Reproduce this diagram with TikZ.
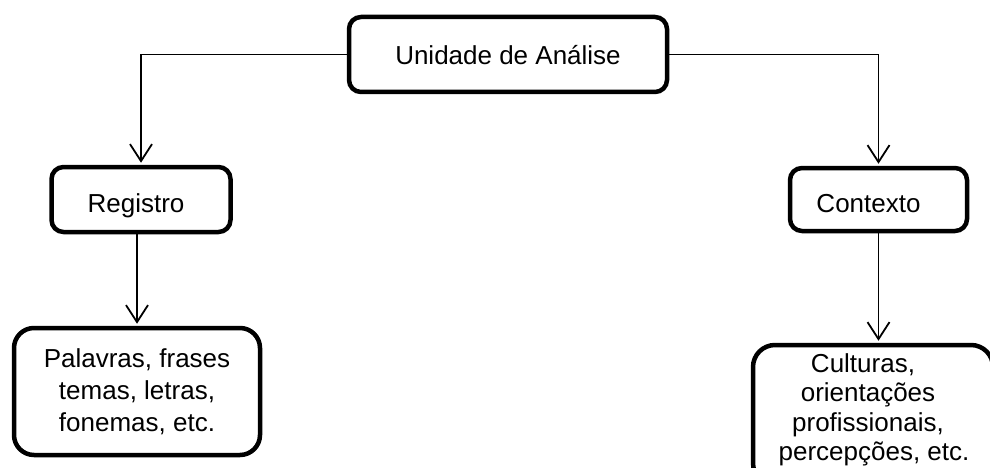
\documentclass[tikz,border=0pt]{standalone}
\usepackage{fontspec}
\setmainfont{Liberation Sans}
\usetikzlibrary{arrows.meta}
% set a label with its baseline a given distance below the box centre
\newcommand{\baselabel}[2]{\raisebox{-#1}[0pt][0pt]{#2}}
\begin{document}
\begin{tikzpicture}[x=1pt,y=-1pt,
  box/.style={draw, line width=4.5pt, rounded corners=12pt, fill=white,
    font=\fontsize{26}{32}\selectfont, align=center, inner sep=0pt},
  link/.style={line width=1.8pt, shorten >=2pt,
    -{Straight Barb[length=17pt,width=22pt,line width=1.8pt]}}]
  \path[use as bounding box, fill=white] (0,0) rectangle (990,468);
  \clip (0,0) rectangle (990,468);

  % boxes
  \node[box, minimum width=318pt, minimum height=75pt] (top) at (508,54.5)
    {\baselabel{10pt}{Unidade de Análise}};
  \node[box, minimum width=179pt, minimum height=65pt] (reg) at (141,199.5)
    {\baselabel{13pt}{Registro}\hspace*{10pt}};
  \node[box, minimum width=177pt, minimum height=63pt] (ctx) at (878.5,199.5)
    {\baselabel{13pt}{Contexto}\hspace*{20pt}};
  \node[box, rounded corners=20pt, minimum width=246pt, minimum height=127pt] (pal) at (137,391.5)
    {\raisebox{-3pt}{\parbox{246pt}{\centering Palavras, frases\\temas, letras,\\fonemas, etc.}}};
  \node[box, rounded corners=22pt, minimum width=240pt, minimum height=140pt] (cul) at (873,415) {};
  \node[font=\fontsize{26}{29.5}\selectfont, align=center, inner sep=0pt] (cultxt) at (868,410)
    {Culturas,\hspace*{10pt}\\orientações\\profissionais,\\\hspace*{12pt}percepções, etc.};

  % connectors
  \draw[link] (top.west) -| (reg.north);
  \draw[link] (top.east) -| (ctx.north);
  \draw[link] (reg.south -| pal.north) -- (pal.north);
  \draw[link] (ctx.south) -- (ctx.south |- cul.north);
\end{tikzpicture}
\end{document}
